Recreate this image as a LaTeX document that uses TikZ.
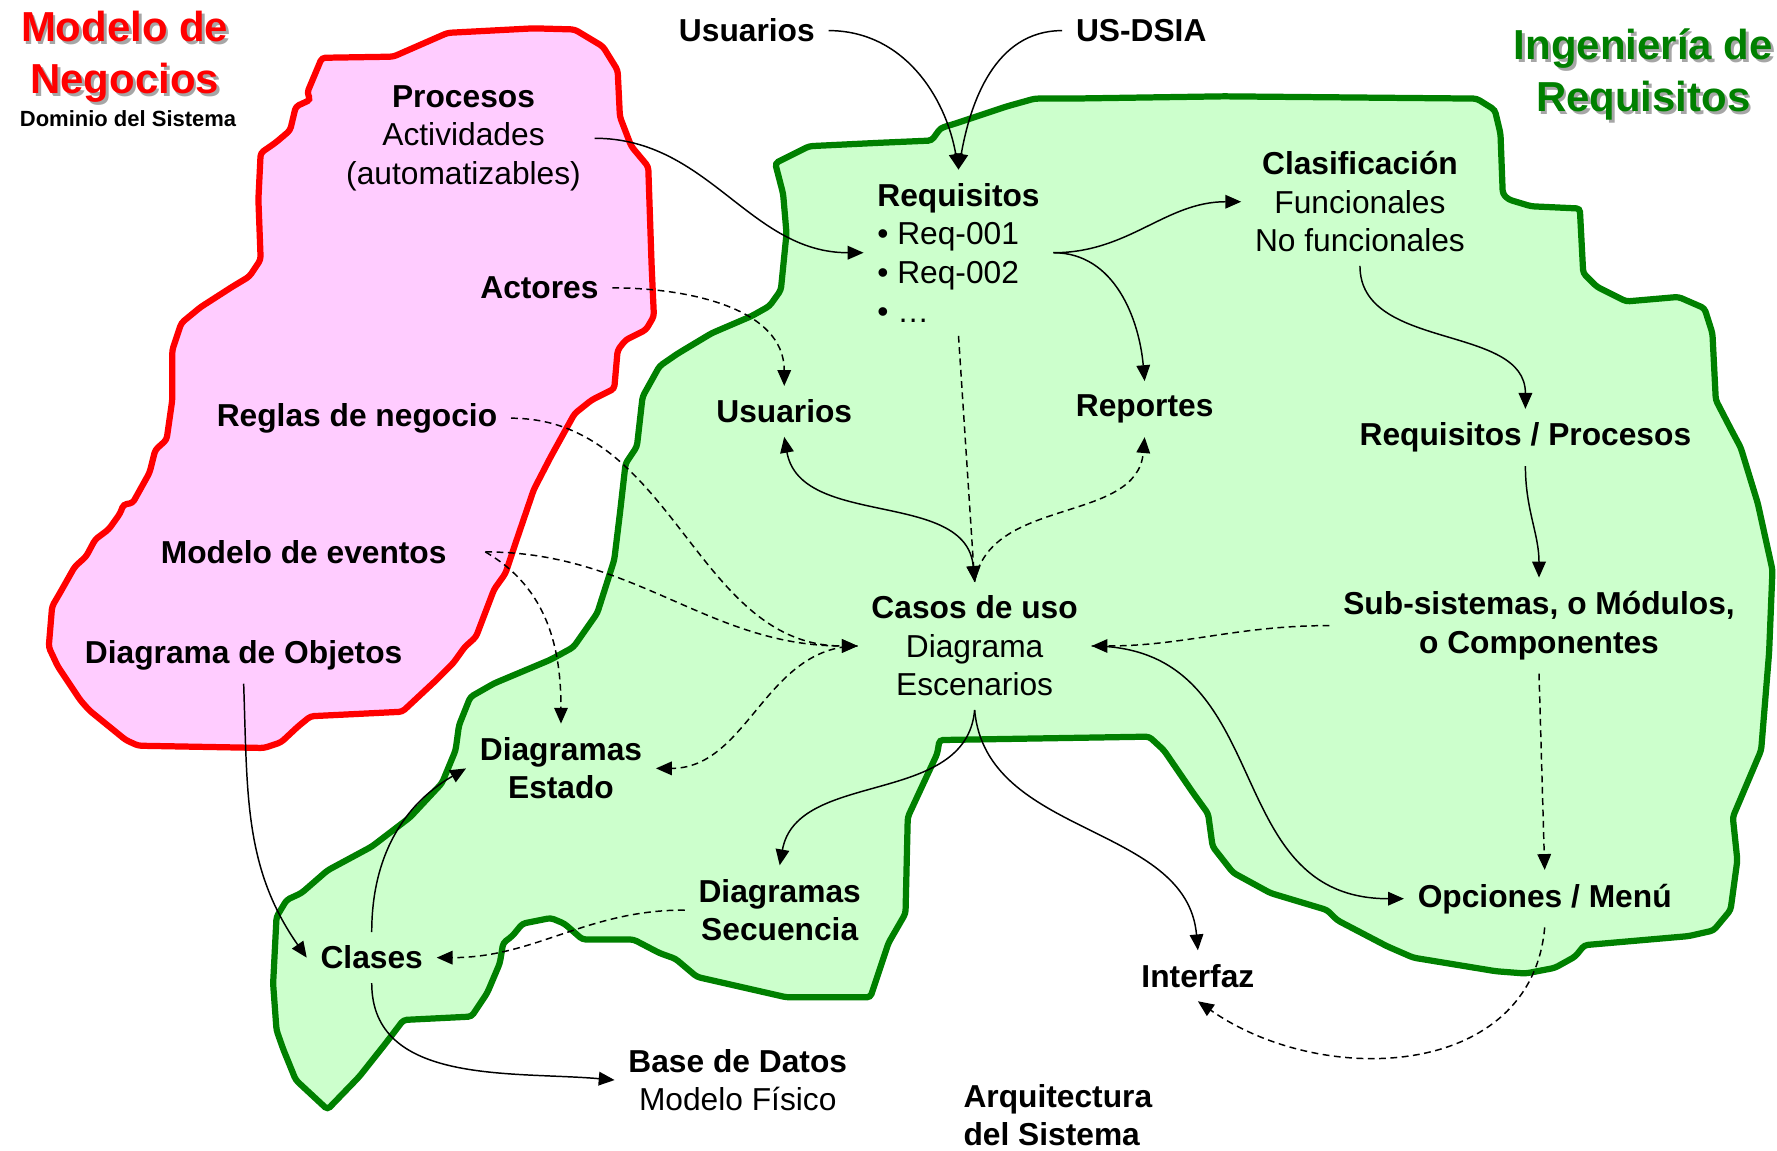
\documentclass[tikz,border=0pt]{standalone}
\usepackage{fontspec}
\setmainfont{Liberation Sans}
\usetikzlibrary{arrows.meta}
\definecolor{rosa}{HTML}{FFCCFF}
\definecolor{verdeclaro}{HTML}{CCFFCC}
\definecolor{verdeosc}{HTML}{008000}
\tikzset{
    etiqueta/.style={font=\fontsize{28}{34}\selectfont, align=center, inner sep=12pt, yshift=-3pt},
    negrita/.style={etiqueta, font=\fontsize{28}{34}\selectfont\bfseries},
    titulo/.style={font=\fontsize{37}{46}\selectfont\bfseries, align=center, inner sep=0pt, yshift=-3pt},
    sombra/.style={titulo, text=black!35},
    zona/.style={line width=5.5pt, rounded corners=3pt},
    flecha/.style={line width=1.3pt, -{Triangle[length=14pt,width=12pt]}},
    doble/.style={line width=1.3pt, {Triangle[length=14pt,width=12pt]}-{Triangle[length=14pt,width=12pt]}},
    punteada/.style={dash pattern=on 6pt off 4pt}
}

\begin{document}
\begin{tikzpicture}[x=1pt,y=-1pt]
        \useasboundingbox (0,0) rectangle (1568,1015);
        \draw[zona, fill=rosa, draw=red] (284,51) -- (347,50) -- (395,29) -- (471,25) -- (507,26) -- (532,41) -- (545,62) -- (547,103) -- (557,129) -- (572,147) -- (575,235) -- (577,279) -- (570,291) -- (552,300) -- (545,309) -- (542,343) -- (522,353) -- (507,365) -- (486,403) -- (471,432) -- (456,476) -- (446,506) -- (436,520) -- (428,541) -- (420,562) -- (410,571) -- (400,585) -- (385,600) -- (355,628) -- (274,632) -- (263,641) -- (248,655) -- (233,660) -- (122,658) -- (111,653) -- (79,627) -- (71,618) -- (51,588) -- (43,571) -- (46,535) -- (53,523) -- (66,500) -- (76,491) -- (84,476) -- (96,467) -- (106,453) -- (109,445) -- (117,444) -- (132,417) -- (137,397) -- (147,388) -- (152,353) -- (152,309) -- (160,285) -- (177,271) -- (205,253) -- (220,244) -- (230,229) -- (228,176) -- (230,135) -- (243,126) -- (256,115) -- (261,94) -- (274,88) -- (271,82) -- cycle;
        \draw[zona, fill=verdeclaro, draw=verdeosc] (684,144) -- (714,129) -- (776,126) -- (822,124) -- (830,113) -- (843,109) -- (888,94) -- (913,87) -- (944,87) -- (1080,85) -- (1303,87) -- (1319,97) -- (1324,118) -- (1326,171) -- (1331,176) -- (1351,182) -- (1394,184) -- (1397,241) -- (1409,253) -- (1435,266) -- (1481,262) -- (1504,272) -- (1511,294) -- (1514,353) -- (1528,380) -- (1536,395) -- (1551,444) -- (1564,503) -- (1561,576) -- (1554,662) -- (1529,721) -- (1533,759) -- (1527,803) -- (1512,821) -- (1490,826) -- (1398,834) -- (1390,844) -- (1372,854) -- (1346,859) -- (1320,857) -- (1247,845) -- (1224,835) -- (1180,812) -- (1171,803) -- (1121,788) -- (1088,770) -- (1070,747) -- (1066,718) -- (1053,700) -- (1027,662) -- (1014,650) -- (829,653) -- (827,665) -- (801,721) -- (799,806) -- (784,832) -- (768,880) -- (694,880) -- (615,862) -- (596,846) -- (582,841) -- (559,829) -- (514,829) -- (498,815) -- (486,810) -- (461,815) -- (452,826) -- (444,832) -- (441,850) -- (430,876) -- (416,897) -- (356,900) -- (340,921) -- (317,950) -- (289,979) -- (261,953) -- (250,926) -- (244,909) -- (241,868) -- (244,809) -- (253,794) -- (266,788) -- (289,768) -- (328,747) -- (362,721) -- (376,706) -- (390,691) -- (402,662) -- (405,640) -- (415,615) -- (436,603) -- (486,582) -- (506,571) -- (527,541) -- (542,494) -- (547,453) -- (552,409) -- (562,394) -- (567,350) -- (572,341) -- (582,323) -- (598,312) -- (628,294) -- (663,279) -- (679,270) -- (689,256) -- (694,206) -- (691,171) -- cycle;

        \node[sombra] (negsombra) at (112.5,49.5) {Modelo de\\Negocios};
        \node[titulo, text=red] (negocios) at (110,47) {Modelo de\\Negocios};
        \node[font=\fontsize{19.4}{23}\selectfont\bfseries, inner sep=0pt] (dominio) at (113,105) {Dominio del Sistema};
        \node[sombra] (ingsombra) at (1452.5,65.5) {Ingeniería de\\Requisitos};
        \node[titulo, text=verdeosc] (ingenieria) at (1450,63) {Ingeniería de\\Requisitos};

        \node[negrita] (usrtop) at (659,24) {Usuarios};
        \node[negrita] (usdsia) at (1007,24) {US-DSIA};
        \node[etiqueta] (procesos) at (409,119) {\textbf{Procesos}\\Actividades\\(automatizables)};
        \node[etiqueta, align=left, anchor=west] (reqs) at (762,220) {\textbf{Requisitos}\\• Req-001\\• Req-002\\• …};
        \node[etiqueta] (clasif) at (1200,175) {\textbf{Clasificación}\\Funcionales\\No funcionales};
        \node[negrita] (actores) at (476,251) {Actores};
        \node[negrita] (usrin) at (692,360) {Usuarios};
        \node[negrita] (reportes) at (1010,358) {Reportes};
        \node[negrita] (reglas) at (315,366) {Reglas de negocio};
        \node[negrita] (reqproc) at (1346,383) {Requisitos / Procesos};
        \node[negrita] (eventos) at (268,484) {Modelo de eventos};
        \node[etiqueta] (casos) at (860,567) {\textbf{Casos de uso}\\Diagrama\\Escenarios};
        \node[negrita] (subsis) at (1358,549) {Sub-sistemas, o Módulos,\\o Componentes};
        \node[negrita] (objetos) at (215,575) {Diagrama de Objetos};
        \node[negrita] (estado) at (495,675) {Diagramas\\Estado};
        \node[negrita] (secuencia) at (688,800) {Diagramas\\Secuencia};
        \node[negrita] (clases) at (328,842) {Clases};
        \node[negrita] (opciones) at (1363,790) {Opciones / Menú};
        \node[negrita] (interfaz) at (1057,858) {Interfaz};
        \node[etiqueta] (basedatos) at (651,950) {\textbf{Base de Datos}\\Modelo Físico};
        \node[negrita, align=left, anchor=west] (arquitectura) at (838,981) {Arquitectura\\del Sistema};
        \coordinate (ev) at ([xshift=22pt]eventos.east);

        \draw[flecha] (usrtop.east) to[out=0,in=100] (reqs.north);
        \draw[flecha] (usdsia.west) to[out=180,in=80] (reqs.north);
        \draw[flecha] (procesos.east) to[out=0,in=180] (reqs.west);
        \draw[flecha] (reqs.east) to[out=0,in=180] (clasif.west);
        \draw[flecha] (reqs.east) to[out=0,in=95] (reportes.north);
        \draw[flecha] (clasif.south) to[out=-90,in=90] (reqproc.north);
        \draw[flecha] (reqproc.south) to[out=-90,in=90] (subsis.north);
        \draw[flecha, punteada] (reqs.south) -- (casos.north);
        \draw[doble] (usrin.south) to[out=-80,in=95] (casos.north);
        \draw[flecha, punteada] (casos.north) to[out=80,in=-95] (reportes.south);
        \draw[flecha, punteada] (actores.east) to[out=0,in=90] (usrin.north);
        \draw[flecha, punteada] (reglas.east) to[out=0,in=180] (casos.west);
        \draw[flecha, punteada] (ev) to[out=0,in=180] (casos.west);
        \draw[flecha, punteada] (ev) to[out=-30,in=90] (estado.north);
        \draw[flecha, punteada] (casos.west) to[out=180,in=0] (estado.east);
        \draw[flecha, punteada] (subsis.west) to[out=180,in=0] (casos.east);
        \draw[flecha] (casos.east) to[out=0,in=180,looseness=1.2] (opciones.west);
        \draw[flecha, punteada] (subsis.south) -- (opciones.north);
        \draw[flecha, punteada] (opciones.south) to[out=-95,in=-35,looseness=1.1] (interfaz.south);
        \draw[flecha] (casos.south) to[out=-95,in=80] (secuencia.north);
        \draw[flecha] (casos.south) to[out=-85,in=95] (interfaz.north);
        \draw[flecha] (objetos.south) to[out=-88,in=125] (clases.west);
        \draw[flecha] (clases.north) to[out=90,in=-150] (estado.west);
        \draw[flecha, punteada] (secuencia.west) to[out=180,in=0] (clases.east);
        \draw[flecha] (clases.south) to[out=-90,in=175] (basedatos.west);
\end{tikzpicture}
\end{document}
